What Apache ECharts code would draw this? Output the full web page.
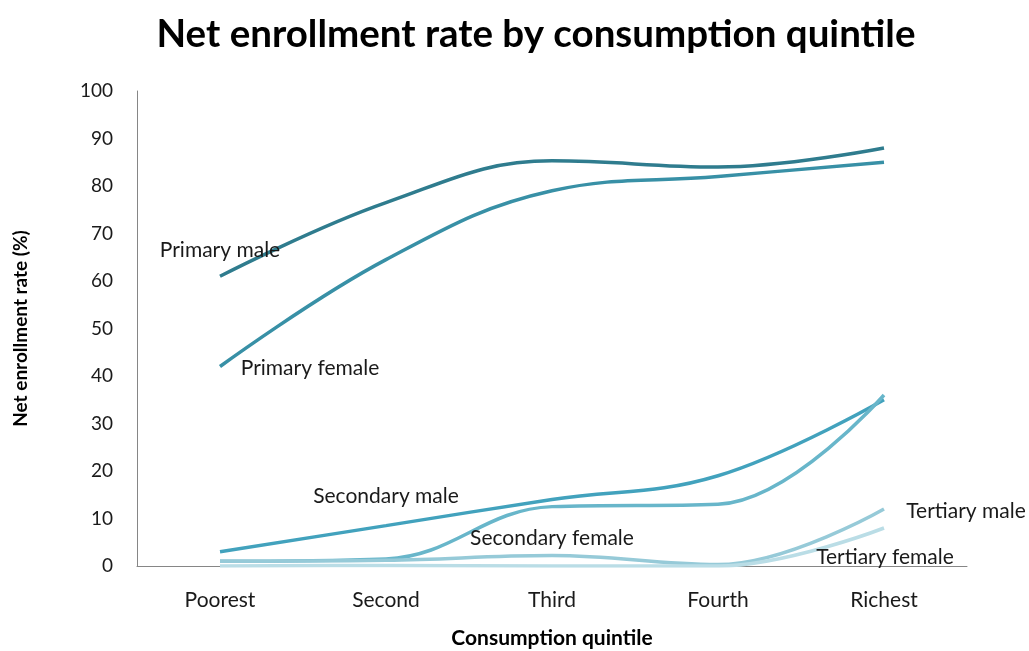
<!DOCTYPE html>
<html>
<head>
<meta charset="utf-8">
<script src="https://cdn.jsdelivr.net/npm/echarts@6/dist/echarts.min.js"></script>
<style>
  html, body { margin: 0; padding: 0; background: #fff; }
  #chart { width: 1029px; height: 651px; }
</style>
</head>
<body>
<div id="chart"></div>
<script>
// Consumption quintiles along the x axis
const quintiles = ['Poorest', 'Second', 'Third', 'Fourth', 'Richest'];

// Net enrollment rate (%) per quintile
const primaryMale     = [61, 76.5, 85.3, 84, 88];
const primaryFemale   = [42, 64.5, 79, 82, 85];
const secondaryMale   = [3, 8.5, 14, 19, 35];
const secondaryFemale = [1, 1.5, 12.5, 13, 36];
const tertiaryMale    = [1, 1.2, 2.2, 0.3, 12];
const tertiaryFemale  = [0, 0.1, 0, 0, 8];

const yTicks = { min: 0, max: 100, interval: 10 };

const FONT = 'Lato';

// one smoothed line, with its name written next to a chosen point
function lineSeries(name, values, color, labelIndex, offset) {
  return {
    name: name,
    type: 'line',
    data: values,
    smooth: 0.4,
    symbol: 'none',
    lineStyle: { color: color, width: 3.5 },
    markPoint: {
      symbol: 'circle',
      symbolSize: 0,
      silent: true,
      label: {
        show: true,
        position: 'inside',
        offset: offset,
        formatter: name,
        color: '#1a1a1a',
        fontFamily: FONT,
        fontSize: 21
      },
      data: [{ coord: [quintiles[labelIndex], values[labelIndex]] }]
    }
  };
}

const chart = echarts.init(document.getElementById('chart'));
chart.setOption({
  animation: false,
  title: {
    text: 'Net enrollment rate by consumption quintile',
    left: 531,
    textAlign: 'center',
    top: 10,
    textStyle: { fontFamily: FONT, fontWeight: 'bold', fontSize: 38.5, color: '#000' }
  },
  grid: { left: 137, right: 62, top: 91, bottom: 85, outerBoundsMode: 'none' },
  xAxis: {
    type: 'category',
    data: quintiles,
    boundaryGap: true,
    name: 'Consumption quintile',
    nameLocation: 'middle',
    nameGap: 62,
    nameTextStyle: { fontFamily: FONT, fontWeight: 'bold', fontSize: 21, color: '#000' },
    axisLine: { lineStyle: { color: '#868686', width: 1 } },
    axisTick: { show: false },
    axisLabel: { fontFamily: FONT, fontSize: 21, color: '#1a1a1a', margin: 24 }
  },
  yAxis: {
    type: 'value',
    min: yTicks.min,
    max: yTicks.max,
    interval: yTicks.interval,
    name: 'Net enrollment rate (%)',
    nameLocation: 'middle',
    nameGap: 107,
    nameTextStyle: { fontFamily: FONT, fontWeight: 'bold', fontSize: 19, color: '#000' },
    axisLine: { show: true, lineStyle: { color: '#868686', width: 1 } },
    axisTick: { show: false },
    splitLine: { show: false },
    axisLabel: { fontFamily: FONT, fontSize: 19, color: '#1a1a1a', margin: 24 }
  },
  series: [
    lineSeries('Primary male', primaryMale, '#2F7C8E', 0, [0, -26]),
    lineSeries('Primary female', primaryFemale, '#3890A6', 0, [90, 2]),
    lineSeries('Secondary male', secondaryMale, '#42A2BD', 1, [0, -29]),
    lineSeries('Secondary female', secondaryFemale, '#68B6CA', 2, [0, 32]),
    lineSeries('Tertiary male', tertiaryMale, '#96CAD8', 4, [82, 2]),
    lineSeries('Tertiary female', tertiaryFemale, '#BADDE6', 4, [1, 29])
  ]
});
</script>
</body>
</html>
